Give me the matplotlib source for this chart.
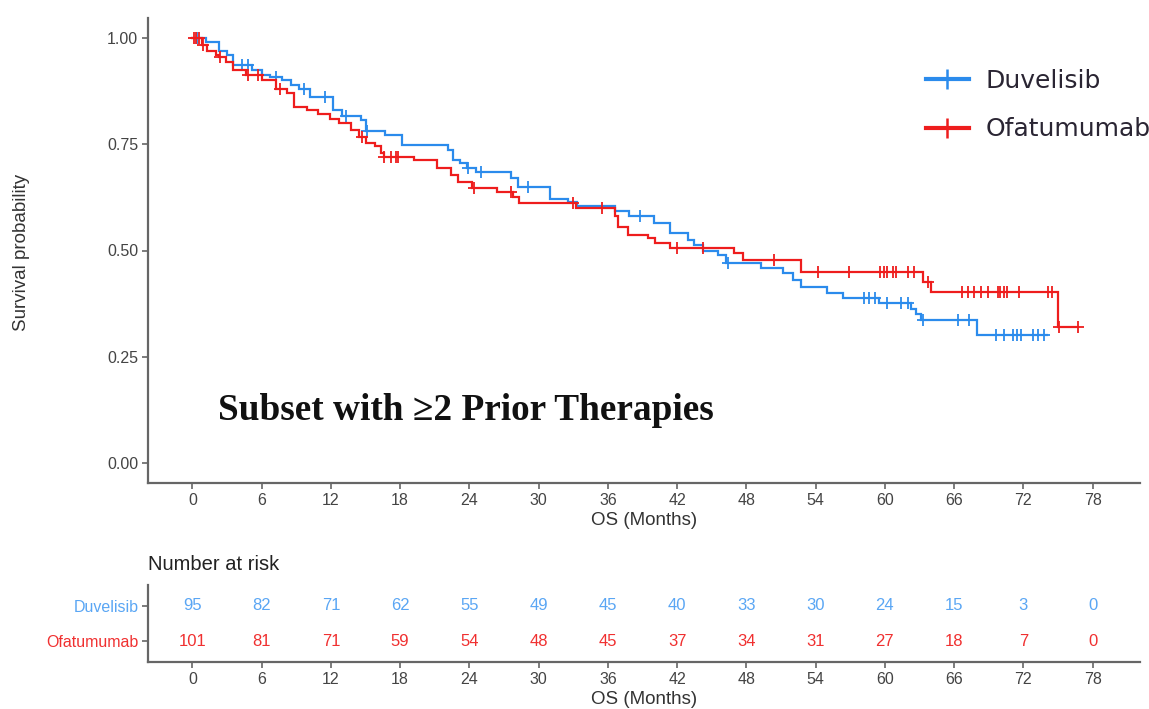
import numpy as np
import matplotlib
matplotlib.use("Agg")
import matplotlib.pyplot as plt
from matplotlib.lines import Line2D

# ---------------- data ----------------
groups = ["Duvelisib", "Ofatumumab"]

duv_times = [0, 1.2, 2.3, 3.0, 3.5, 5.2, 6.0, 6.7, 7.8, 8.5, 9.2, 10.2, 12.2, 13.0, 14.6,
             15.0, 16.7, 18.2, 22.1, 22.6, 23.2, 23.8, 24.6, 27.6, 28.2, 31.0, 32.5, 33.3,
             36.6, 37.8, 40.0, 41.4, 42.9, 43.5, 44.2, 45.5, 46.2, 49.3, 51.2, 52.0, 52.7,
             55.0, 56.4, 59.5, 62.3, 62.7, 63.1, 68.0]
duv_surv = [1.0, 0.99, 0.97, 0.96, 0.937, 0.925, 0.913, 0.908, 0.90, 0.89, 0.88, 0.86, 0.83,
            0.816, 0.807, 0.78, 0.772, 0.748, 0.736, 0.713, 0.705, 0.694, 0.685, 0.67, 0.65,
            0.62, 0.613, 0.605, 0.592, 0.58, 0.565, 0.54, 0.525, 0.513, 0.50, 0.49, 0.47,
            0.46, 0.447, 0.43, 0.415, 0.40, 0.388, 0.376, 0.363, 0.35, 0.336, 0.301]
duv_end = 74.0
duv_censor = [0.4, 4.3, 4.8, 7.2, 9.7, 11.5, 13.3, 15.1, 23.9, 25.0, 29.1, 38.8, 46.4,
              58.2, 58.6, 59.1, 60.2, 61.4, 62.0, 63.3, 66.3, 67.3, 69.6, 70.3, 71.1,
              71.4, 71.8, 72.8, 73.3, 73.8]

ofa_times = [0, 0.8, 1.3, 2.0, 2.3, 2.9, 3.5, 4.6, 6.0, 7.2, 8.2, 8.8, 9.9, 10.9, 11.9,
             12.7, 13.7, 14.4, 15.0, 15.8, 16.3, 16.6, 19.2, 21.2, 22.4, 23.0, 24.2, 26.4,
             27.8, 28.3, 33.2, 36.6, 36.9, 37.7, 39.5, 40.1, 41.4, 46.9, 47.7, 52.7, 63.3,
             64.0, 75.0]
ofa_surv = [1.0, 0.983, 0.97, 0.96, 0.955, 0.943, 0.925, 0.913, 0.90, 0.88, 0.87, 0.837,
            0.83, 0.82, 0.81, 0.80, 0.784, 0.767, 0.753, 0.745, 0.73, 0.72, 0.713, 0.694,
            0.678, 0.66, 0.647, 0.638, 0.626, 0.611, 0.60, 0.58, 0.555, 0.536, 0.529, 0.517,
            0.506, 0.494, 0.478, 0.45, 0.426, 0.403, 0.32]
ofa_end = 76.7
ofa_censor = [0.1, 0.3, 0.6, 0.9, 2.4, 4.8, 5.7, 7.6, 14.7, 16.6, 17.2, 17.6, 17.8, 24.4,
              27.6, 33.0, 35.5, 42.0, 44.2, 50.4, 54.2, 56.9, 59.6, 59.9, 60.2, 60.7, 61.0,
              62.0, 62.5, 63.7, 66.7, 67.2, 67.7, 68.3, 68.9, 69.8, 70.0, 70.3, 70.6, 71.6,
              74.1, 74.5, 75.1, 76.7]

risk_times = [0, 6, 12, 18, 24, 30, 36, 42, 48, 54, 60, 66, 72, 78]
duv_risk = [95, 82, 71, 62, 55, 49, 45, 40, 33, 30, 24, 15, 3, 0]
ofa_risk = [101, 81, 71, 59, 54, 48, 45, 37, 34, 31, 27, 18, 7, 0]

x_ticks = [0, 6, 12, 18, 24, 30, 36, 42, 48, 54, 60, 66, 72, 78]
y_ticks = [0.00, 0.25, 0.50, 0.75, 1.00]

title_text = "Subset with \u22652 Prior Therapies"

# ---------------- style ----------------
BLUE = "#2b8bec"
RED = "#ee1d1d"
BLUE_T = "#5aa6f4"
RED_T = "#f03030"
SPINE = "#666666"
TXT = "#444444"

plt.rcParams["font.family"] = ["Liberation Sans", "DejaVu Sans"]

fig = plt.figure(figsize=(11.49, 7.09), dpi=100)
W, H = 1149, 709

def ax_rect(l, t, r, b):
    return [l / W, 1 - b / H, (r - l) / W, (b - t) / H]

ax = fig.add_axes(ax_rect(148, 18, 1140, 483))
rax = fig.add_axes(ax_rect(148, 585, 1140, 662))

XMIN, XMAX = -3.85, 82.1

def draw_km(times, surv, end, censor, color):
    t = list(times) + [end]
    s = list(surv) + [surv[-1]]
    ax.step(t, s, where="post", color=color, lw=1.6, solid_joinstyle="miter")
    cs = [surv[np.searchsorted(times, c, side="right") - 1] for c in censor]
    ax.plot(censor, cs, linestyle="none", marker="+", color=color,
            markersize=9, markeredgewidth=1.3)

draw_km(duv_times, duv_surv, duv_end, duv_censor, BLUE)
draw_km(ofa_times, ofa_surv, ofa_end, ofa_censor, RED)

ax.set_xlim(XMIN, XMAX)
ax.set_ylim(-0.047, 1.047)
ax.set_xticks(x_ticks)
ax.set_yticks(y_ticks)
ax.set_yticklabels([f"{v:.2f}" for v in y_ticks])
for sp in ["top", "right"]:
    ax.spines[sp].set_visible(False)
for sp in ["left", "bottom"]:
    ax.spines[sp].set_color(SPINE)
    ax.spines[sp].set_linewidth(1.6)
ax.tick_params(axis="both", length=4, width=1.2, color=SPINE, labelsize=11.5,
               labelcolor=TXT, pad=3)
ax.set_xlabel("OS (Months)", fontsize=13.5, color="#333333", labelpad=3)
fig.text(22 / W, 1 - 252 / H, "Survival probability", rotation=90, ha="center",
         va="center", fontsize=13.5, color="#333333")

fig.text(466 / W, 1 - 411 / H, title_text, ha="center", va="center",
         fontsize=26.8, fontweight="bold", family=["Liberation Serif", "DejaVu Serif"],
         color="#111111")

handles = [Line2D([], [], color=BLUE, lw=3, marker="+", markersize=15, markeredgewidth=1.8),
           Line2D([], [], color=RED, lw=3, marker="+", markersize=15, markeredgewidth=1.8)]
leg = ax.legend(handles, groups, loc="upper left", bbox_to_anchor=(926 / W, 1 - 69 / H),
                bbox_transform=fig.transFigure, frameon=False,
                prop={"family": "DejaVu Sans", "size": 18}, handlelength=1.7,
                handletextpad=0.68, labelspacing=0.98, borderpad=0, borderaxespad=0)
for t in leg.get_texts():
    t.set_color("#2a2533")

# ---------------- risk table ----------------
rax.set_xlim(XMIN, XMAX)
rax.set_ylim(-0.6, 1.6)
for x, n in zip(risk_times, duv_risk):
    rax.text(x, 1, str(n), ha="center", va="center", color=BLUE_T, fontsize=12)
for x, n in zip(risk_times, ofa_risk):
    rax.text(x, 0, str(n), ha="center", va="center", color=RED_T, fontsize=12)
rax.set_xticks(x_ticks)
rax.set_yticks([1, 0])
rax.set_yticklabels(groups, fontsize=11.5)
for lab, c in zip(rax.get_yticklabels(), [BLUE_T, RED_T]):
    lab.set_color(c)
for sp in ["top", "right"]:
    rax.spines[sp].set_visible(False)
for sp in ["left", "bottom"]:
    rax.spines[sp].set_color(SPINE)
    rax.spines[sp].set_linewidth(1.6)
rax.tick_params(axis="both", length=4, width=1.2, color=SPINE, pad=3)
rax.tick_params(axis="x", labelsize=11.5, labelcolor=TXT)
rax.set_xlabel("OS (Months)", fontsize=13.5, color="#333333", labelpad=3)
fig.text(148 / W, 1 - 565 / H, "Number at risk", ha="left", va="center",
         fontsize=14.5, color="#222222")

fig.savefig("out.png", dpi=100)
